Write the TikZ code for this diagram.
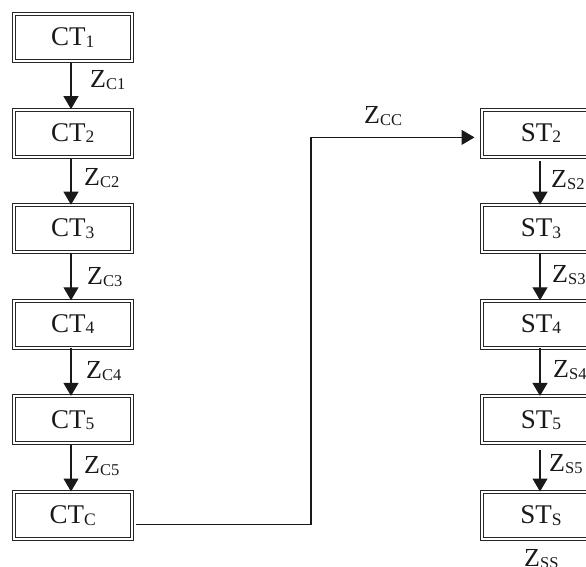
\documentclass[tikz,border=0pt]{standalone}
\usepackage{fontspec}
\setmainfont{Liberation Serif}
\usetikzlibrary{arrows.meta}
\newcommand{\bsub}[1]{\raisebox{-1.5bp}{\fontsize{17.5bp}{17.5bp}\selectfont #1}}
\newcommand{\lsub}[1]{\raisebox{-1.5bp}{\fontsize{16.5bp}{16.5bp}\selectfont #1}}
\tikzset{
  stage/.style={draw=black!85, double, double distance=2bp, line width=1bp,
    minimum width=118bp, minimum height=47bp, inner sep=0pt,
    font=\fontsize{27bp}{30bp}\selectfont, text=black!90},
  lbl/.style={anchor=west, inner sep=0pt, font=\fontsize{26bp}{29bp}\selectfont, text=black!90},
  arr/.style={draw=black!90, line width=1.1bp, -{Triangle[width=15bp,length=13bp]}},
}
\begin{document}
\begin{tikzpicture}[x=1bp,y=-1bp]
\useasboundingbox (0,0) rectangle (586,567);
\clip (0,0) rectangle (586,567);
% left column
\node[stage] (ct1) at (72.7,37.5) {CT\bsub{1}};
\node[stage] (ct2) at (72.7,133.1) {CT\bsub{2}};
\node[stage] (ct3) at (72.7,228.7) {CT\bsub{3}};
\node[stage] (ct4) at (72.7,324.3) {CT\bsub{4}};
\node[stage] (ct5) at (72.7,419.9) {CT\bsub{5}};
\node[stage] (ctc) at (72.7,515.5) {CT\bsub{C}};
% right column
\node[stage] (st2) at (541,133.1) {ST\bsub{2}};
\node[stage] (st3) at (541,228.7) {ST\bsub{3}};
\node[stage] (st4) at (541,324.3) {ST\bsub{4}};
\node[stage] (st5) at (541,419.9) {ST\bsub{5}};
\node[stage] (sts) at (541,515.5) {ST\bsub{S}};
% vertical connectors
\draw[arr, shorten <=1.5bp] (ct1.south -| 71,0) -- (ct2.north -| 71,0);
\draw[arr, shorten <=1.5bp] (ct2.south -| 71,0) -- (ct3.north -| 71,0);
\draw[arr] (ct3.south -| 71,0) -- (ct4.north -| 71,0);
\draw[arr] (ct4.south -| 71,0) -- (ct5.north -| 71,0);
\draw[arr, shorten <=1.5bp] (ct5.south -| 71,0) -- (ctc.north -| 71,0);
\draw[arr, shorten <=4bp] (st2.south -| 540,0) -- (st3.north -| 540,0);
\draw[arr] (st3.south -| 540,0) -- (st4.north -| 540,0);
\draw[arr] (st4.south -| 540,0) -- (st5.north -| 540,0);
\draw[arr, shorten <=6bp] (st5.south -| 540,0) -- (sts.north -| 540,0);
% labels
\node[lbl] (zc1) at (90,80) {Z\lsub{C1}};
\node[lbl] (zc2) at (84,178) {Z\lsub{C2}};
\node[lbl] (zc3) at (87,277) {Z\lsub{C3}};
\node[lbl] (zc4) at (86,371) {Z\lsub{C4}};
\node[lbl] (zc5) at (84,466) {Z\lsub{C5}};
\node[lbl] (zs2) at (551,180) {Z\lsub{S2}};
\node[lbl] (zs3) at (552,275) {Z\lsub{S3}};
\node[lbl] (zs4) at (553,370) {Z\lsub{S4}};
\node[lbl] (zs5) at (549,464) {Z\lsub{S5}};
\node[lbl] (zss) at (524,559) {Z\lsub{SS}};
\node[lbl] (zcc) at (364,116) {Z\lsub{CC}};
% long connector
\coordinate (cstart) at ([yshift=-9bp]ctc.east);
\coordinate (turn) at (311,137.4);
\draw[arr, shorten <=3.5bp, shorten >=7bp] (cstart) -| (turn) -- (turn -| st2.west);
\end{tikzpicture}
\end{document}
